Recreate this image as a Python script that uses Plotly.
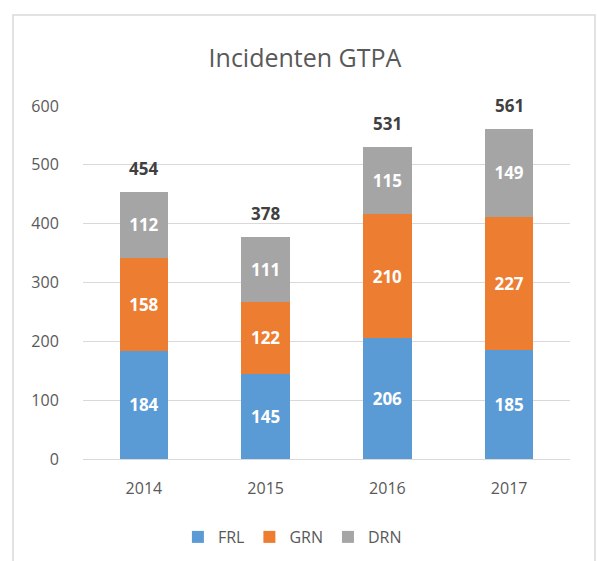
import plotly.graph_objects as go

years = ["2014", "2015", "2016", "2017"]
frl = [184, 145, 206, 185]
grn = [158, 122, 210, 227]
drn = [112, 111, 115, 149]
totals = [454, 378, 531, 561]
series_names = ["FRL", "GRN", "DRN"]
colors = ["#5B9BD5", "#ED7D31", "#A5A5A5"]

W, H = 597, 561
L, R, T, B = 83, 27, 106, 102
pw, ph = W - L - R, H - T - B

fig = go.Figure()
for name, vals, col in zip(series_names, [frl, grn, drn], colors):
    fig.add_trace(go.Bar(
        x=years, y=vals, name=name, marker=dict(color=col, line=dict(width=0)),
        text=[str(v) for v in vals], textposition="inside", insidetextanchor="middle",
        textfont=dict(color="white", size=17, family="Open Sans"),
        texttemplate="<b>%{text}</b>", textangle=0,
    ))

# category axis: annotations positioned by category index
for i, t in enumerate(totals):
    fig.add_annotation(x=i, y=t, xref="x", yref="y", text=f"<b>{t}</b>", showarrow=False,
                       yanchor="bottom", yshift=10,
                       font=dict(size=17, color="#404040", family="Open Sans"))

def px_x(p):
    return (p - L) / pw

def px_y(p):
    return (H - B - p) / ph

fig.add_shape(type="rect", xref="paper", yref="paper",
              x0=px_x(13), x1=px_x(595), y0=px_y(15), y1=px_y(575),
              line=dict(color="#D9D9D9", width=1.5), fillcolor="rgba(0,0,0,0)", layer="below")

fig.update_layout(
    width=W, height=H, barmode="stack", bargap=0.6,
    margin=dict(l=L, r=R, t=T, b=B, autoexpand=False),
    paper_bgcolor="white", plot_bgcolor="white",
    font=dict(family="Open Sans", color="#595959", size=16),
    title=dict(text="Incidenten GTPA", x=305 / W, xanchor="center",
               y=1 - 58 / H, yanchor="middle",
               font=dict(size=25, color="#595959", family="Open Sans")),
    xaxis=dict(type="category", showgrid=False, showline=True, linecolor="#D9D9D9",
               linewidth=1, ticks="outside", ticklen=15, tickcolor="rgba(0,0,0,0)",
               tickfont=dict(size=16, color="#595959")),
    yaxis=dict(range=[0, 600], dtick=100, showgrid=True, gridcolor="#D9D9D9",
               gridwidth=1, zeroline=False, showline=False,
               ticks="outside", ticklen=20, tickcolor="rgba(0,0,0,0)",
               tickfont=dict(size=16, color="#595959")),
    legend=dict(orientation="h", x=0.43, xanchor="center", y=px_y(537), yanchor="middle",
                font=dict(size=16, color="#595959"), traceorder="normal"),
    showlegend=True,
)

fig.write_html("out.html", config={"displayModeBar": False},
               post_script="document.body.style.margin='0';")
